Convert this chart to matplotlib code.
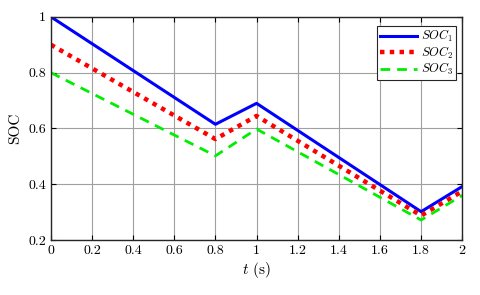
import matplotlib
matplotlib.use("Agg")
import matplotlib.pyplot as plt

plt.rcParams['font.family'] = 'serif'
plt.rcParams['font.serif'] = ['cmr10', 'DejaVu Serif']
plt.rcParams['mathtext.fontset'] = 'cm'
plt.rcParams['axes.formatter.use_mathtext'] = True

t = [0, 0.8, 1.0, 1.8, 2.0]
soc1 = [1.0, 0.615, 0.69, 0.302, 0.392]
soc2 = [0.9, 0.562, 0.645, 0.288, 0.375]
soc3 = [0.8, 0.502, 0.598, 0.272, 0.36]

xticks = [0, 0.2, 0.4, 0.6, 0.8, 1, 1.2, 1.4, 1.6, 1.8, 2]
xlabels = ['0', '0.2', '0.4', '0.6', '0.8', '1', '1.2', '1.4', '1.6', '1.8', '2']
yticks = [0.2, 0.4, 0.6, 0.8, 1]
ylabels = ['0.2', '0.4', '0.6', '0.8', '1']

fig = plt.figure(figsize=(4.8, 2.95), dpi=100)
ax = fig.add_axes([0.106, 0.186, 0.857, 0.757])

ax.plot(t, soc1, color='#0000ff', lw=2.2, label='$SOC_1$')
ax.plot(t, soc2, color='#ff0000', lw=3.2, ls=(0, (1, 1.2)), label='$SOC_2$')
ax.plot(t, soc3, color='#00ee00', lw=2.0, ls=(0, (3.5, 2.5)), label='$SOC_3$')

ax.set_xlim(0, 2)
ax.set_ylim(0.2, 1)
ax.set_xticks(xticks)
ax.set_xticklabels(xlabels)
ax.set_yticks(yticks)
ax.set_yticklabels(ylabels)
ax.tick_params(direction='in', top=True, right=True, labelsize=10, length=3.5, width=0.8)
ax.grid(True, color='#a0a0a0', lw=0.8)
for s in ax.spines.values():
    s.set_linewidth(1.0)
    s.set_color('#262626')

ax.set_xlabel('$t$ (s)', fontsize=11, labelpad=2)
ax.set_ylabel('SOC', fontsize=11, labelpad=4)

leg = ax.legend(loc='upper right', fontsize=9, handlelength=3.0, handletextpad=0.3,
                borderpad=0.2, labelspacing=0.02, fancybox=False, framealpha=1,
                borderaxespad=0, edgecolor='#262626', bbox_to_anchor=(0.984, 0.96))
leg.get_frame().set_linewidth(0.8)

fig.savefig('out.png', dpi=100)
